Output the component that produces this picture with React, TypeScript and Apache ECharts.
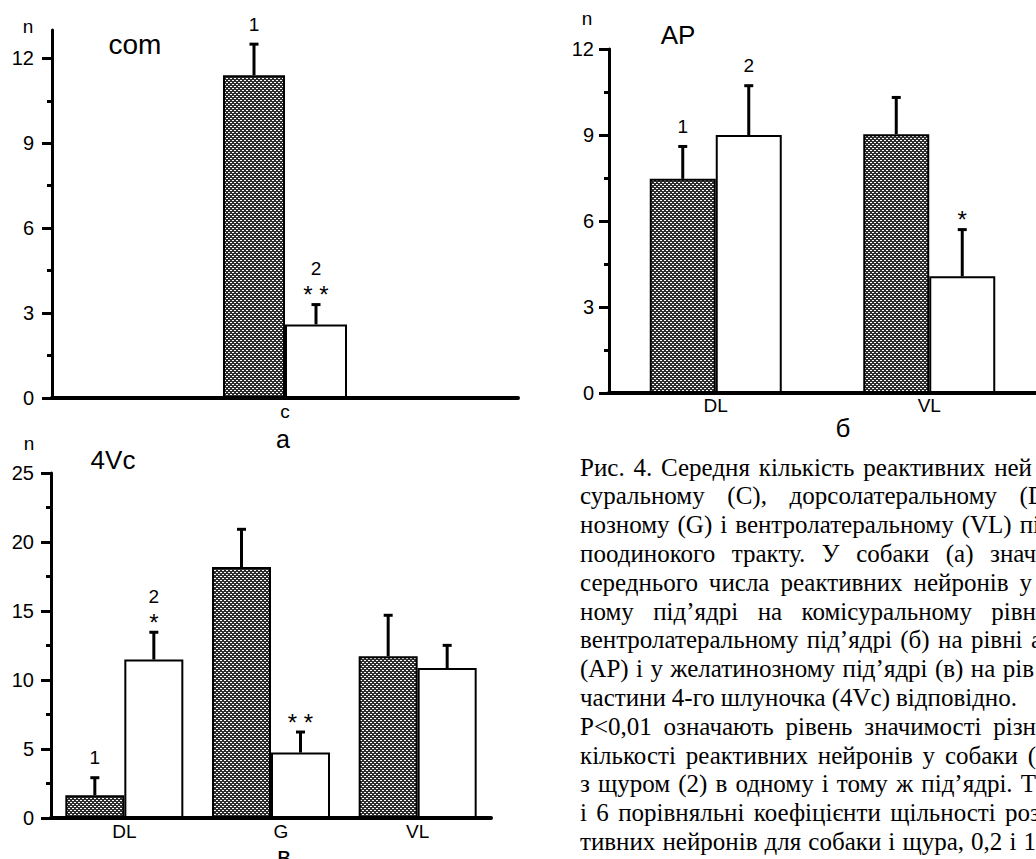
import React, { useEffect, useRef } from "react";
import * as echarts from "echarts";

// ---- data ----
const catsA = ["c"];
const dogA = [11.4];
const dogSdA = [1.1];
const ratA = [2.6];
const ratSdA = [0.7];
const dogNumA = ["1"];
const ratNumA = ["2"];
const dogStarA = [""];
const ratStarA = ["* *"];
const majorA = [0, 3, 6, 9, 12];
const minorA = [1.5, 4.5, 7.5, 10.5];

const catsB = ["DL", "VL"];
const dogB = [7.47, 9.03];
const dogSdB = [1.13, 1.28];
const ratB = [9.0, 4.07];
const ratSdB = [1.72, 1.63];
const dogNumB = ["1", ""];
const ratNumB = ["2", ""];
const dogStarB = ["", ""];
const ratStarB = ["", "*"];
const majorB = [0, 3, 6, 9, 12];
const minorB = [1.5, 4.5, 7.5, 10.5];

const catsC = ["DL", "G", "VL"];
const dogC = [1.64, 18.19, 11.72];
const dogSdC = [1.28, 2.73, 2.97];
const ratC = [11.48, 4.74, 10.87];
const ratSdC = [1.98, 1.49, 1.64];
const dogNumC = ["1", "", ""];
const ratNumC = ["2", "", ""];
const dogStarC = ["", "", ""];
const ratStarC = ["*", "* *", ""];
const majorC = [0, 5, 10, 15, 20, 25];
const minorC = [2.5, 7.5, 12.5, 17.5, 22.5];

const titles = ["com", "AP", "4Vc"];
const panelLetters = ["а", "б", "в"];
const captionLines = [
  "Рис. 4. Середня кількість реактивних ней",
  "суральному (C), дорсолатеральному (D",
  "нозному (G) і вентролатеральному (VL) пі",
  "поодинокого тракту. У собаки (а) знач",
  "середнього числа реактивних нейронів у",
  "ному під’ядрі на комісуральному рівн",
  "вентролатеральному під’ядрі (б) на рівні а",
  "(AP) і у желатинозному під’ядрі (в) на рів",
  "частини 4-го шлуночка (4Vc) відповідно.",
  "P<0,01 означають рівень значимості різн",
  "кількості реактивних нейронів у собаки (",
  "з щуром (2) в одному і тому ж під’ядрі. Т",
  "і 6 порівняльні коефіцієнти щільності роз",
  "тивних нейронів для собаки і щура, 0,2 і 1",
];
// right end (px) of the visible part of each justified caption line
const captionEnds = [1032, 1046, 1040, 1036, 1032, 1036, 1042, 1034, 1017, 1036, 1036, 1036, 1040, 1036];

const SANS = '"Liberation Sans", Arial, sans-serif';
const SERIF = '"Liberation Serif", "Times New Roman", serif';

export default function App() {
  const ref = useRef<HTMLDivElement>(null);
  useEffect(() => {
    if (!ref.current) return;
    const chart = echarts.init(ref.current, undefined, { renderer: "svg" });

    const cv = document.createElement("canvas");
    cv.width = 4;
    cv.height = 4;
    const ctx = cv.getContext("2d")!;
    ctx.fillStyle = "#2e2e2e";
    ctx.fillRect(0, 0, 4, 4);
    ctx.fillStyle = "#ffffff";
    ctx.fillRect(0, 0, 2, 1);
    ctx.fillRect(2, 2, 2, 1);
    const pattern: any = { image: cv, repeat: "repeat", imageWidth: 4, imageHeight: 4 };

    const grids = [
      { left: 52, top: 30, width: 466, height: 368 },
      { left: 609, top: 49, width: 440, height: 344 },
      { left: 51, top: 473, width: 440, height: 345 },
    ];
    const maxes = [13, 12, 25];
    const cats = [catsA, catsB, catsC];
    const majors = [majorA, majorB, majorC];
    const minors = [minorA, minorB, minorC];
    const barW = [62, 66, 59];
    const dogs = [dogA, dogB, dogC];
    const dogSds = [dogSdA, dogSdB, dogSdC];
    const rats = [ratA, ratB, ratC];
    const ratSds = [ratSdA, ratSdB, ratSdC];
    const dogNums = [dogNumA, dogNumB, dogNumC];
    const ratNums = [ratNumA, ratNumB, ratNumC];
    const dogStars = [dogStarA, dogStarB, dogStarC];
    const ratStars = [ratStarA, ratStarB, ratStarC];
    const labelMargins = [18, 15, 17];
    const xLabelMargins = [4, 3, 4];

    const xAxis: any[] = [];
    const yAxis: any[] = [];
    const series: any[] = [];

    const errSeries = (
      g: number,
      yIdx: number,
      means: number[],
      sds: number[],
      nums: string[],
      stars: string[],
      side: number,
      w: number
    ) => ({
      type: "custom",
      xAxisIndex: g,
      yAxisIndex: yIdx,
      z: 5,
      clip: false,
      data: means.map((m, i) => [i, m, m + sds[i]]),
      renderItem: (params: any, api: any) => {
        const i = api.value(0);
        const base = api.coord([i, api.value(1)]);
        const top = api.coord([i, api.value(2)]);
        const x = base[0] + (side * w) / 2;
        const children: any[] = [
          {
            type: "line",
            shape: { x1: x, y1: base[1], x2: x, y2: top[1] },
            style: { stroke: "#000", lineWidth: 3 },
          },
          {
            type: "line",
            shape: { x1: x - 4.5, y1: top[1], x2: x + 4.5, y2: top[1] },
            style: { stroke: "#000", lineWidth: 3 },
          },
        ];
        const idx = params.dataIndex;
        const star = stars[idx];
        const num = nums[idx];
        if (star) {
          children.push({
            type: "text",
            x,
            y: top[1] - 10,
            style: {
              text: star,
              fill: "#000",
              fontSize: 24,
              fontFamily: SANS,
              align: "center",
              verticalAlign: "middle",
            },
          });
        }
        if (num) {
          children.push({
            type: "text",
            x,
            y: top[1] - (star ? 36 : 20),
            style: {
              text: num,
              fill: "#000",
              fontSize: 19,
              fontFamily: SANS,
              align: "center",
              verticalAlign: "middle",
            },
          });
        }
        return { type: "group", children };
      },
    });

    grids.forEach((_, g) => {
      xAxis.push({
        type: "category",
        gridIndex: g,
        data: cats[g],
        axisLine: { lineStyle: { color: "#000", width: 4 } },
        axisTick: { show: false },
        axisLabel: {
          color: "#000",
          fontSize: 19,
          fontFamily: SANS,
          margin: xLabelMargins[g],
          formatter: (v: string) => (g === 2 && v === "G" ? "{g|" + v + "}" : v),
          rich: { g: { fontSize: 19, fontFamily: SANS, color: "#000", padding: [0, 0, 0, 20] } },
        },
        splitLine: { show: false },
      });
      const mainIdx = yAxis.length;
      yAxis.push({
        type: "value",
        gridIndex: g,
        min: 0,
        max: maxes[g],
        axisLine: { show: true, lineStyle: { color: "#000", width: 3 } },
        axisTick: {
          show: true,
          length: 10,
          customValues: majors[g],
          lineStyle: { color: "#000", width: 3 },
        },
        axisLabel: {
          show: true,
          customValues: majors[g],
          color: "#000",
          fontSize: 20,
          fontFamily: SANS,
          margin: labelMargins[g],
        },
        splitLine: { show: false },
      });
      yAxis.push({
        type: "value",
        gridIndex: g,
        position: "left",
        min: 0,
        max: maxes[g],
        axisLine: { show: false },
        axisTick: {
          show: true,
          length: 5,
          customValues: minors[g],
          lineStyle: { color: "#000", width: 3 },
        },
        axisLabel: { show: false },
        splitLine: { show: false },
      });
      series.push({
        type: "bar",
        xAxisIndex: g,
        yAxisIndex: mainIdx,
        data: dogs[g],
        barWidth: barW[g],
        barGap: "0%",
        itemStyle: { color: pattern, borderColor: "#000", borderWidth: 2 },
      });
      series.push({
        type: "bar",
        xAxisIndex: g,
        yAxisIndex: mainIdx,
        data: rats[g],
        barWidth: barW[g],
        barGap: "0%",
        itemStyle: { color: "#fff", borderColor: "#000", borderWidth: 2 },
      });
      series.push(errSeries(g, mainIdx, dogs[g], dogSds[g], dogNums[g], dogStars[g], -1, barW[g]));
      series.push(errSeries(g, mainIdx, rats[g], ratSds[g], ratNums[g], ratStars[g], 1, barW[g]));
    });

    const txt = (x: number, y: number, text: string, size: number, family = SANS, align = "center") => ({
      type: "text",
      x,
      y,
      style: {
        text,
        fill: "#000",
        fontSize: size,
        fontFamily: family,
        align,
        verticalAlign: "middle",
      },
    });

    const graphic: any[] = [
      txt(28, 26, "n", 19),
      txt(587, 18, "n", 19),
      txt(29, 443, "n", 19),
      txt(135, 44, titles[0], 28),
      txt(678, 35, titles[1], 26),
      txt(113, 460, titles[2], 26),
      txt(283, 439, panelLetters[0], 25),
      txt(843, 428, panelLetters[1], 26),
      txt(284, 856, panelLetters[2], 26),
    ];

    // justified caption: words spread so each line reaches its right end
    const capSize = 25;
    const capLeft = 580;
    const mctx = document.createElement("canvas").getContext("2d")!;
    mctx.font = capSize + "px " + SERIF;
    const minGap = 3;
    captionLines.forEach((line, i) => {
      const y = 467 + i * 28.8;
      const words = line.split(" ");
      const widths = words.map((w) => mctx.measureText(w).width);
      const total = widths.reduce((a, b) => a + b, 0);
      const gap =
        words.length > 1
          ? Math.max(minGap, (captionEnds[i] - capLeft - total) / (words.length - 1))
          : 0;
      let x = capLeft;
      words.forEach((w, k) => {
        graphic.push(txt(x, y, w, capSize, SERIF, "left"));
        x += widths[k] + gap;
      });
    });

    chart.setOption({
      animation: false,
      backgroundColor: "#fff",
      grid: grids,
      xAxis,
      yAxis,
      series,
      graphic,
    });
    return () => chart.dispose();
  }, []);
  return (
    <div
      ref={ref}
      style={{ position: "absolute", left: 0, top: 0, width: 1036, height: 859 }}
    />
  );
}
